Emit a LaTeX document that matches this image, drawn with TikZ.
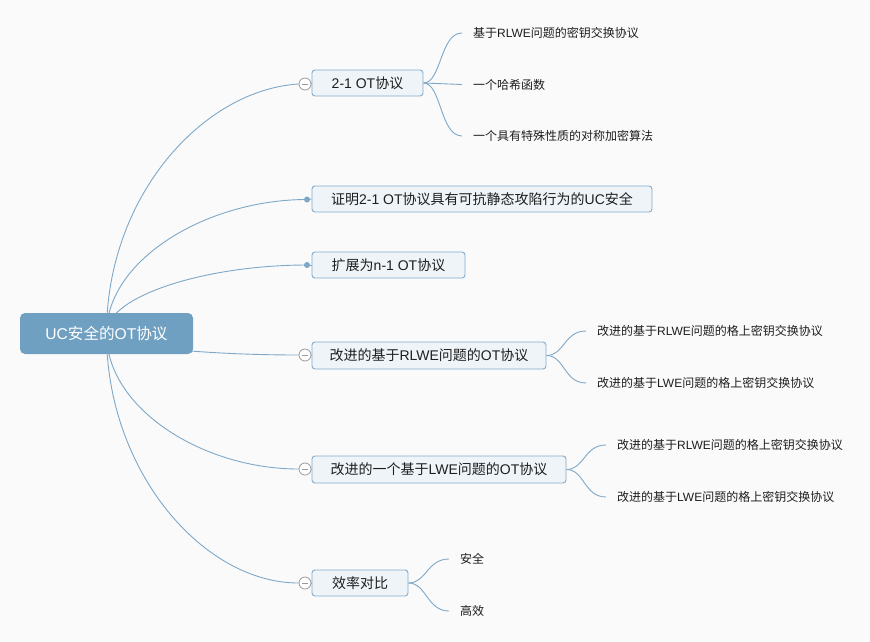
\documentclass[tikz,border=0pt]{standalone}
\usepackage{fontspec}
\setmainfont{Liberation Sans}
\newfontfamily\zhfont{Noto Sans CJK SC}
\newcommand\zh[1]{{\zhfont #1}}
\usetikzlibrary{calc}
\pgfdeclarelayer{back}
\pgfdeclarelayer{bg}
\pgfsetlayers{back,bg,main}
\definecolor{bgc}{HTML}{FAFAFA}
\definecolor{rootc}{HTML}{70A0C1}
\definecolor{linec}{HTML}{7EA8C8}
\definecolor{boxfill}{HTML}{EEF4F8}
\definecolor{boxline}{HTML}{84ACCC}
\definecolor{circc}{HTML}{9A9A9A}
\definecolor{txt}{HTML}{1E1E1E}
\tikzset{
  rootbox/.style={rectangle, rounded corners=5pt, fill=rootc, text=white,
    minimum width=173pt, minimum height=41pt, inner sep=0pt,
    font=\fontsize{15.6}{18}\selectfont},
  topic/.style={rectangle, rounded corners=3pt, draw=boxline, fill=boxfill,
    line width=0.9pt, minimum height=26pt, inner sep=0pt, text=txt,
    font=\fontsize{14}{16}\selectfont},
  leaf/.style={anchor=west, inner ysep=0pt, inner xsep=11pt, text=txt,
    font=\fontsize{12}{14}\selectfont},
  conn/.style={draw=linec, line width=0.9pt},
  fold/.style={circle, draw=circc, fill=white, line width=0.8pt,
    minimum size=12pt, inner sep=0pt,
    path picture={\draw[circc, line width=0.8pt]
      ([xshift=3pt]path picture bounding box.west) --
      ([xshift=-3pt]path picture bounding box.east);}},
  dotmark/.style={circle, fill=linec, minimum size=6pt, inner sep=0pt}
}
\begin{document}
\begin{tikzpicture}[x=1pt, y=-1pt]
\begin{pgfonlayer}{back}
\fill[bgc] (0,0) rectangle (870,641);
\end{pgfonlayer}
\useasboundingbox (0,0) rectangle (870,641);

% root
\node[rootbox] (root) at (106.5,333.5) {UC\zh{安全的}OT\zh{协议}};

% topics
\node[topic, minimum width=111pt] (n1) at (367.5,83) {2-1 OT\zh{协议}};
\node[topic, minimum width=340pt] (n2) at (482,199) {\zh{证明}2-1 OT\zh{协议具有可抗静态攻陷行为的}UC\zh{安全}};
\node[topic, minimum width=153pt] (n3) at (388.5,265) {\zh{扩展为}n-1 OT\zh{协议}};
\node[topic, minimum width=234pt, minimum height=27pt] (n4) at (429,355.5) {\zh{改进的基于}RLWE\zh{问题的}OT\zh{协议}};
\node[topic, minimum width=254pt, minimum height=27pt] (n5) at (439,469.5) {\zh{改进的一个基于}LWE\zh{问题的}OT\zh{协议}};
\node[topic, minimum width=96pt] (n6) at (360,583) {\zh{效率对比}};

% fold markers
\node[fold] (c1) at (305,84) {};
\node[dotmark] (d2) at (307,199.5) {};
\node[dotmark] (d3) at (307,265) {};
\node[fold] (c4) at (305,355) {};
\node[fold] (c5) at (305,469) {};
\node[fold] (c6) at (305,583) {};

% leaves
\node[leaf] (l1a) at (462,33) {\zh{基于}RLWE\zh{问题的密钥交换协议}};
\node[leaf] (l1b) at (462,84.5) {\zh{一个哈希函数}};
\node[leaf] (l1c) at (462,136) {\zh{一个具有特殊性质的对称加密算法}};
\node[leaf] (l4a) at (586,331) {\zh{改进的基于}RLWE\zh{问题的格上密钥交换协议}};
\node[leaf] (l4b) at (586,383) {\zh{改进的基于}LWE\zh{问题的格上密钥交换协议}};
\node[leaf] (l5a) at (606,445) {\zh{改进的基于}RLWE\zh{问题的格上密钥交换协议}};
\node[leaf] (l5b) at (606,497) {\zh{改进的基于}LWE\zh{问题的格上密钥交换协议}};
\node[leaf] (l6a) at (449,559) {\zh{安全}};
\node[leaf] (l6b) at (449,611) {\zh{高效}};

\begin{pgfonlayer}{bg}
% root to topics
\draw[conn] (root.center) .. controls +(0,-137) and +(-96,6) .. (c1.west);
\draw[conn] (root.center) .. controls +(0,-74) and +(-100,0) .. (d2.center);
\draw[conn] (root.center) .. controls +(0,-38) and +(-100,0) .. (d3.center);
\draw[conn] (root.center) .. controls +(0,12) and +(-96,0) .. (c4.west);
\draw[conn] (root.center) .. controls +(0,75) and +(-96,0) .. (c5.west);
\draw[conn] (root.center) .. controls +(0,137) and +(-96,0) .. (c6.west);
\draw[conn] (c1.east) -- (n1.west);
\draw[conn] (c4.east) -- (n4.west);
\draw[conn] (c5.east) -- (n5.west);
\draw[conn] (c6.east) -- (n6.west);
\draw[conn] (d2.center) -- (n2.west);
\draw[conn] (d3.center) -- (n3.west);
% topics to leaves
\draw[conn] (n1.east) .. controls +(18,0) and +(-22,0) .. (l1a.west);
\draw[conn] (n1.east) -- (l1b.west);
\draw[conn] (n1.east) .. controls +(18,0) and +(-22,0) .. (l1c.west);
\draw[conn] (n4.east) .. controls +(18,0) and +(-22,0) .. (l4a.west);
\draw[conn] (n4.east) .. controls +(18,0) and +(-22,0) .. (l4b.west);
\draw[conn] (n5.east) .. controls +(18,0) and +(-22,0) .. (l5a.west);
\draw[conn] (n5.east) .. controls +(18,0) and +(-22,0) .. (l5b.west);
\draw[conn] (n6.east) .. controls +(18,0) and +(-22,0) .. (l6a.west);
\draw[conn] (n6.east) .. controls +(18,0) and +(-22,0) .. (l6b.west);
\end{pgfonlayer}
\end{tikzpicture}
\end{document}
